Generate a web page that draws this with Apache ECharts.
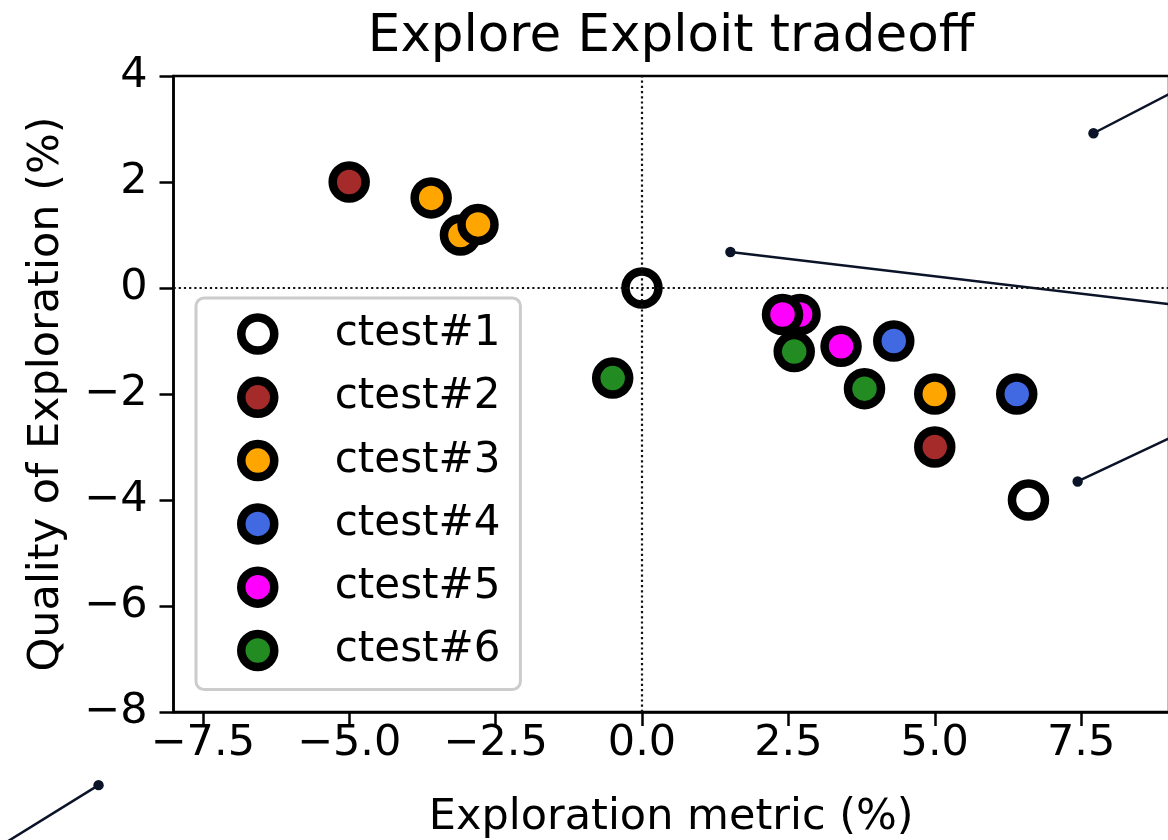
<!DOCTYPE html>
<html>
<head>
<meta charset="utf-8">
<script src="https://cdn.jsdelivr.net/npm/echarts@6/dist/echarts.min.js"></script>
<style>
html,body{margin:0;padding:0;background:#fff;}
#chart{width:1168px;height:840px;}
</style>
</head>
<body>
<div id="chart"></div>
<script>
// ---- data ----
const seriesNames = ['ctest#1','ctest#2','ctest#3','ctest#4','ctest#5','ctest#6'];
const seriesColors = ['#ffffff','#a52a2a','#ffa500','#4169e1','#ff00ff','#228b22'];
const ctest1 = [[0.0, 0.0],[6.6, -4.0]];
const ctest2 = [[-5.0, 2.0],[5.0, -3.0]];
const ctest3 = [[-3.6, 1.7],[-3.1, 1.0],[-2.8, 1.2],[5.0, -2.0]];
const ctest4 = [[4.3, -1.0],[6.4, -2.0]];
const ctest5 = [[2.7, -0.5],[2.4, -0.5],[3.4, -1.1]];
const ctest6 = [[-0.5, -1.7],[2.6, -1.2],[3.8, -1.9]];
const seriesData = [ctest1, ctest2, ctest3, ctest4, ctest5, ctest6];

const xTicks = [-7.5, -5.0, -2.5, 0.0, 2.5, 5.0, 7.5];
const yTicks = [-8, -6, -4, -2, 0, 2, 4];

// annotation pointers: [dotX, dotY, farX, farY] (far end off canvas)
const annotations = [
  [7.71, 2.92, 10.05, 4.26],
  [1.51, 0.68, 10.05, -0.44],
  [7.44, -3.65, 10.05, -2.29],
  [-9.28, -9.38, -11.81, -11.11]
];

// ---- chart ----
const FONT = 'DejaVu Sans';
const fmtMinus = s => String(s).replace('-', '\u2212');
const chart = echarts.init(document.getElementById('chart'), null, {renderer: 'canvas'});
const ANN_COLOR = '#0b1328';

const series = [];
// reference lines (dotted) at x=0 and y=0
series.push({
  type: 'scatter', name: '_ref', data: [], z: 1, silent: true,
  markLine: {
    silent: true, symbol: 'none', animation: false,
    label: {show: false},
    lineStyle: {color: '#111', width: 2.2, type: [2.2, 3]},
    emphasis: {disabled: true},
    data: [{xAxis: 0}, {yAxis: 0}]
  }
});
seriesNames.forEach((name, i) => {
  series.push({
    type: 'scatter', name: name, data: seriesData[i], z: 3,
    symbol: 'circle', symbolSize: 33,
    itemStyle: {color: seriesColors[i], borderColor: '#000', borderWidth: 8.5, opacity: 1},
    emphasis: {disabled: true}
  });
});
series.push({
  type: 'custom', name: '_ann', z: 4, clip: false, silent: true,
  data: annotations,
  encode: {x: [0, 2], y: [1, 3]},
  renderItem: function (params, api) {
    const p0 = api.coord([api.value(0), api.value(1)]);
    const p1 = api.coord([api.value(2), api.value(3)]);
    return {
      type: 'group',
      children: [
        {type: 'line', shape: {x1: p0[0], y1: p0[1], x2: p1[0], y2: p1[1]},
         style: {stroke: ANN_COLOR, lineWidth: 2.5}},
        {type: 'circle', shape: {cx: p0[0], cy: p0[1], r: 5.2},
         style: {fill: ANN_COLOR}}
      ]
    };
  }
});

chart.setOption({
  animation: false,
  backgroundColor: '#fff',
  textStyle: {fontFamily: FONT},
  title: {
    text: 'Explore Exploit tradeoff',
    left: 666, textAlign: 'center', top: 7,
    textStyle: {fontFamily: FONT, fontSize: 51.5, fontWeight: 'normal', color: '#000'}
  },
  grid: {
    left: 173.5, top: 76, width: 995.5, height: 636,
    outerBoundsMode: 'none', containLabel: false,
    show: true, borderColor: '#000', borderWidth: 2.5, backgroundColor: 'transparent'
  },
  legend: {
    data: seriesNames,
    orient: 'vertical', left: 196, top: 298,
    padding: [14, 20, 17, 41],
    itemGap: 19.3, itemWidth: 68, itemHeight: 33,
    icon: 'circle',
    itemStyle: {borderColor: '#000', borderWidth: 8.5},
    backgroundColor: 'rgba(255,255,255,0.8)',
    borderColor: '#cccccc', borderWidth: 3, borderRadius: 8,
    textStyle: {fontFamily: FONT, fontSize: 42, color: '#000', lineHeight: 44, padding: [0, 0, 0, 38]},
    selectedMode: false
  },
  xAxis: {
    type: 'value', min: -8, max: 9,
    name: 'Exploration metric (%)', nameLocation: 'middle', nameGap: 84,
    nameTextStyle: {fontFamily: FONT, fontSize: 43, color: '#000'},
    axisLine: {show: true, onZero: false, lineStyle: {color: '#000', width: 2.5}},
    axisTick: {show: true, length: 14, customValues: xTicks, lineStyle: {color: '#000', width: 2.5}},
    axisLabel: {
      show: true, customValues: xTicks, margin: 10,
      fontFamily: FONT, fontSize: 43, color: '#000',
      formatter: v => fmtMinus(Number(v).toFixed(1))
    },
    splitLine: {show: false}
  },
  yAxis: {
    type: 'value', min: -8, max: 4, interval: 2,
    name: 'Quality of Exploration (%)', nameLocation: 'middle', nameGap: 105,
    nameTextStyle: {fontFamily: FONT, fontSize: 43, color: '#000'},
    axisLine: {show: true, onZero: false, lineStyle: {color: '#000', width: 2.5}},
    axisTick: {show: true, length: 14, lineStyle: {color: '#000', width: 2.5}},
    axisLabel: {
      show: true, margin: 26,
      fontFamily: FONT, fontSize: 43, color: '#000',
      formatter: v => fmtMinus(v)
    },
    splitLine: {show: false}
  },
  series: series
});
</script>
</body>
</html>
